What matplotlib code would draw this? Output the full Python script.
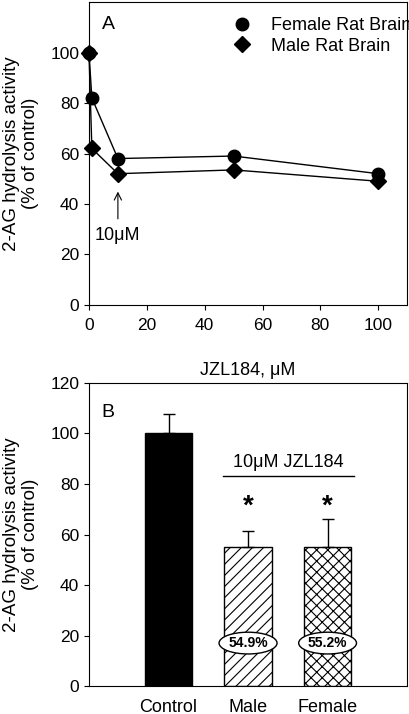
import matplotlib
matplotlib.use("Agg")
import matplotlib.pyplot as plt
import numpy as np

plt.rcParams['font.family'] = ['Liberation Sans', 'DejaVu Sans']
plt.rcParams['font.size'] = 13
plt.rcParams['xtick.labelsize'] = 12.5
plt.rcParams['ytick.labelsize'] = 12.5
plt.rcParams['hatch.linewidth'] = 0.8

# panel A data
conc = [0, 1, 10, 50, 100]
female = [100, 82, 58, 59, 52]
male = [100, 62, 52, 53.5, 49]

# panel B data
groups = ["Control", "Male", "Female"]
activity = [100, 54.9, 55.2]
sem = [7.7, 6.4, 10.9]
pct_labels = ["54.9%", "55.2%"]

fig = plt.figure(figsize=(4.1, 7.14), dpi=100)

axA = fig.add_axes([0.217, 0.573, 0.776, 0.424])
axA.plot(conc, female, color='black', lw=1, marker='o', ms=9, clip_on=False, zorder=3)
axA.plot(conc, male, color='black', lw=1, marker='D', ms=8, clip_on=False, zorder=3)
# legend markers only (no lines), like the original
axA.plot([], [], ls='none', color='black', marker='o', ms=9, label="Female Rat Brain")
axA.plot([], [], ls='none', color='black', marker='D', ms=8, label="Male Rat Brain")
axA.set_xlim(0, 110)
axA.set_ylim(0, 120)
axA.set_xticks([0, 20, 40, 60, 80, 100])
axA.set_yticks([0, 20, 40, 60, 80, 100])
axA.tick_params(axis='x', pad=6)
axA.set_xlabel("JZL184, \u03bcM", labelpad=21)
axA.set_ylabel("2-AG hydrolysis activity\n(% of control)", fontsize=13.5, labelpad=8)
axA.text(0.04, 0.955, "A", transform=axA.transAxes, fontsize=14, va='top')
axA.annotate("", xy=(10, 46), xytext=(10, 33),
             arrowprops=dict(arrowstyle='->', color='black', lw=0.8))
axA.text(9.7, 27.5, "10\u03bcM", ha='center', va='center')
axA.legend(loc='upper left', bbox_to_anchor=(0.425, 0.975), frameon=False, fontsize=13,
           handlelength=1.2, handletextpad=1.0, borderaxespad=0, labelspacing=0.2)

axB = fig.add_axes([0.217, 0.0392, 0.776, 0.4244])
pos = np.arange(1, len(groups) + 1)
colors = ['black', 'white', 'white']
hatches = [None, '///', 'xxx']
for p, v, e, c, h in zip(pos, activity, sem, colors, hatches):
    axB.bar(p, v, width=0.6, color=c, edgecolor='black', hatch=h, lw=1, zorder=2)
    axB.errorbar(p, v, yerr=[[0], [e]], color='black', capsize=4.5, lw=1, capthick=1, zorder=3)
axB.set_xlim(0, 4)
axB.set_ylim(0, 120)
axB.set_yticks([0, 20, 40, 60, 80, 100, 120])
axB.set_xticks(pos)
axB.set_xticklabels(groups, fontsize=13)
axB.tick_params(axis='x', length=0, pad=9)
axB.set_ylabel("2-AG hydrolysis activity\n(% of control)", fontsize=13.5, labelpad=8)
axB.text(0.04, 0.93, "B", transform=axB.transAxes, fontsize=14, va='top')
axB.plot([1.69, 3.33], [83, 83], color='black', lw=1)
axB.text(2.51, 85, "10\u03bcM JZL184", ha='center', va='bottom')
for p in pos[1:]:
    axB.text(p, 66, "*", ha='center', va='bottom', fontsize=20, fontweight='bold')
for p, t in zip(pos[1:], pct_labels):
    axB.text(p, 17, t, ha='center', va='center', fontsize=10, fontweight='bold',
             bbox=dict(boxstyle='ellipse,pad=0.05', fc='white', ec='black', lw=1), zorder=4)

fig.savefig("out.png", dpi=100)
